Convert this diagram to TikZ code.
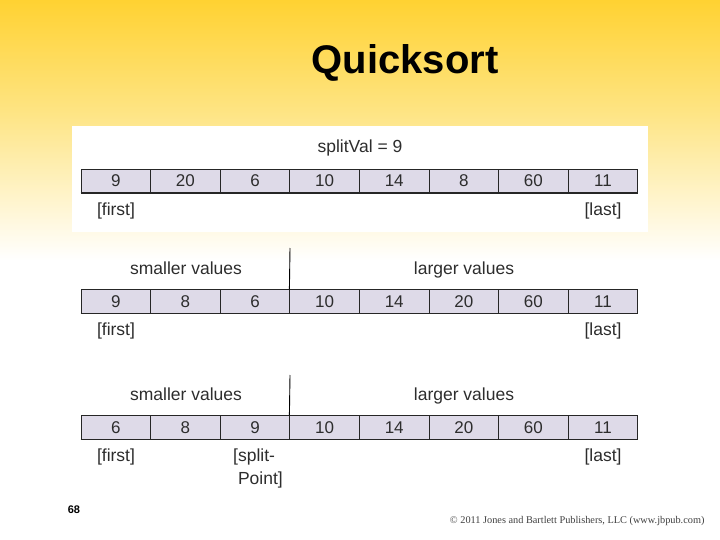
\documentclass[tikz,border=0pt]{standalone}
\usepackage{fontspec}
\setmainfont{Liberation Sans}
\newfontfamily\creditfont{Liberation Serif}
\usetikzlibrary{positioning}
\definecolor{slideyellow}{RGB}{255,210,50}
\definecolor{midyellow}{RGB}{254,228,130}
\definecolor{cellfill}{RGB}{222,218,232}
\definecolor{inkgray}{RGB}{45,45,45}
\tikzset{
  cell/.style={draw=black!85, line width=0.8pt, fill=cellfill, minimum width=69.6pt, minimum height=23.5pt,
    inner sep=0pt, text=inkgray, font=\fontsize{17}{17}\selectfont},
  lbl/.style={inner sep=0pt, text=inkgray, font=\fontsize{17.5}{23}\selectfont},
  divider/.style={draw=black, line width=0.9pt},
}
\begin{document}
\begin{tikzpicture}[x=1pt,y=-1pt]
  \useasboundingbox (0,0) rectangle (720,540);
  \fill[top color=slideyellow,bottom color=midyellow] (0,0) rectangle (720,110);
  \fill[top color=midyellow,bottom color=white] (0,110) rectangle (720,260);
  \fill[white] (72,126) rectangle (648,232);
  \node[font=\bfseries\fontsize{40}{40}\selectfont, anchor=base] (title) at (405,74) {Quicksort};

  \foreach \row/\yy/\vals in {a/181/{9,20,6,10,14,8,60,11},
                              b/301.5/{9,8,6,10,14,20,60,11},
                              c/427.5/{6,8,9,10,14,20,60,11}} {
    \foreach \v [count=\i] in \vals
      \node[cell] (\row\i) at (81+69.6*\i-34.8,\yy) {\v};
    \draw[line width=1.6pt, black!85] (\row1.south west) -- (\row8.south east);
  }

  \node[lbl] (splitval) at (360,148) {splitVal = 9};
  \node[lbl] (afirst) at (116,211) {[first]};
  \node[lbl] (alast) at (603,211) {[last]};

  \coordinate (bdiv) at (290,248);
  \draw[divider] (bdiv) -- (b4.north west);
  \node[lbl, anchor=base] (bsmall) at (186,274.5) {smaller values};
  \node[lbl, anchor=base] (blarge) at (464,274.5) {larger values};
  \node[lbl] (bfirst) at (116,331) {[first]};
  \node[lbl] (blast) at (603,331) {[last]};

  \coordinate (cdiv) at (290,375);
  \draw[divider] (cdiv) -- (c4.north west);
  \node[lbl, anchor=base] (csmall) at (186,400.5) {smaller values};
  \node[lbl, anchor=base] (clarge) at (464,400.5) {larger values};
  \node[lbl] (cfirst) at (116,457) {[first]};
  \node[lbl, align=left] (csplit) at (258,468) {[split-\\\ Point]};
  \node[lbl] (clast) at (603,457) {[last]};

  \node[font=\bfseries\fontsize{11}{11}\selectfont] (pagenum) at (74,510) {68};
  \node[font=\creditfont\fontsize{10.3}{10.3}\selectfont, text=black!75, anchor=east] (credit) at (708,521)
    {\textcopyright{} 2011 Jones and Bartlett Publishers, LLC (www.jbpub.com)};
\end{tikzpicture}
\end{document}
